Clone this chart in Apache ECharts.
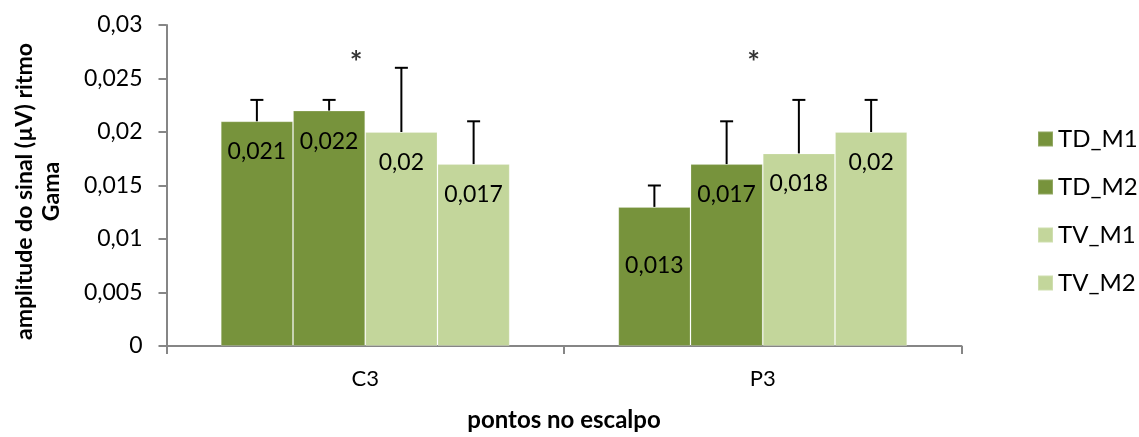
<!DOCTYPE html>
<html>
<head>
<meta charset="utf-8">
<script src="https://cdn.jsdelivr.net/npm/echarts@6/dist/echarts.min.js"></script>
<style>
html,body{margin:0;padding:0;background:#fff;}
#c{width:1139px;height:437px;}
</style>
</head>
<body>
<div id="c"></div>
<script>
var categories = ['C3', 'P3'];
var seriesNames = ['TD_M1', 'TD_M2', 'TV_M1', 'TV_M2'];
var TD_M1 = [0.021, 0.013];
var TD_M2 = [0.022, 0.017];
var TV_M1 = [0.020, 0.018];
var TV_M2 = [0.017, 0.020];
var TD_M1_err = [0.002, 0.002];
var TD_M2_err = [0.001, 0.004];
var TV_M1_err = [0.006, 0.005];
var TV_M2_err = [0.004, 0.003];
var asteriskLevel = [0.0264, 0.0264];
var yTickLabels = ['0', '0,005', '0,01', '0,015', '0,02', '0,025', '0,03'];

var values = [TD_M1, TD_M2, TV_M1, TV_M2];
var errors = [TD_M1_err, TD_M2_err, TV_M1_err, TV_M2_err];
var colors = ['#77933C', '#77933C', '#C3D69B', '#C3D69B'];
var FONT = 'Lato';
var GAP = 0.273;

var series = [];
values.forEach(function (vals, si) {
  series.push({
    name: seriesNames[si],
    type: 'bar',
    barGap: 0,
    barCategoryGap: (GAP * 100) + '%',
    itemStyle: { color: colors[si], borderColor: 'rgba(255,255,255,0.2)', borderWidth: 1 },
    label: {
      show: true,
      position: 'insideTop',
      distance: 19,
      color: '#000',
      fontFamily: FONT,
      fontSize: 23,
      formatter: function (p) { return String(p.value).replace('.', ','); }
    },
    data: vals.map(function (v, ci) {
      var d = { value: v };
      if (si === 0 && ci === 1) d.label = { distance: 47 };
      return d;
    }),
    z: 2
  });
});
values.forEach(function (vals, si) {
  series.push({
    type: 'custom',
    name: seriesNames[si] + '_err',
    data: vals.map(function (v, ci) { return [ci, v, errors[si][ci]]; }),
    encode: { x: 0, y: 1 },
    z: 3,
    silent: true,
    renderItem: function (params, api) {
      var ci = api.value(0), v = api.value(1), e = api.value(2);
      var band = api.size([1, 0])[0];
      var bw = band * (1 - GAP) / 4;
      var base = api.coord([ci, v]);
      var top = api.coord([ci, v + e]);
      var x = base[0] + (si - 1.5) * bw;
      var cap = 6.5;
      var st = { stroke: '#000', lineWidth: 2 };
      return {
        type: 'group',
        children: [
          { type: 'line', shape: { x1: x, y1: base[1], x2: x, y2: top[1] }, style: st },
          { type: 'line', shape: { x1: x - cap, y1: top[1], x2: x + cap, y2: top[1] }, style: st }
        ]
      };
    }
  });
});
series.push({
  type: 'scatter',
  name: 'sig',
  data: asteriskLevel,
  symbolSize: 0,
  silent: true,
  label: {
    show: true,
    position: 'inside',
    offset: [-9, 0],
    formatter: '*',
    color: '#000',
    fontFamily: FONT,
    fontWeight: 'bold',
    fontSize: 30
  },
  z: 4
});

var chart = echarts.init(document.getElementById('c'));
chart.setOption({
  animation: false,
  backgroundColor: '#fff',
  textStyle: { fontFamily: FONT },
  grid: { left: 166.5, right: 177.5, top: 25, bottom: 86 },
  legend: {
    data: seriesNames,
    orient: 'vertical',
    left: 1032,
    top: 122,
    icon: 'rect',
    itemWidth: 15,
    itemHeight: 15,
    itemGap: 24,
    textStyle: { fontFamily: FONT, fontSize: 24, color: '#000', lineHeight: 24 }
  },
  xAxis: {
    type: 'category',
    data: categories,
    name: 'pontos no escalpo',
    nameLocation: 'middle',
    nameGap: 62,
    nameTextStyle: { fontFamily: FONT, fontSize: 24, fontWeight: 'bold', color: '#000' },
    axisLine: { lineStyle: { color: '#868686', width: 2 } },
    axisTick: { show: true, length: 8, lineStyle: { color: '#868686', width: 2 } },
    axisLabel: { margin: 22, fontFamily: FONT, fontSize: 22, color: '#000' }
  },
  yAxis: {
    type: 'value',
    min: 0,
    max: 0.03,
    interval: 0.005,
    name: 'amplitude do sinal (µV) ritmo\nGama',
    nameLocation: 'middle',
    nameRotate: 90,
    nameGap: 101,
    nameTextStyle: { fontFamily: FONT, fontSize: 23, fontWeight: 'bold', color: '#000', lineHeight: 27, align: 'center', padding: [0, 12, 0, 0] },
    splitLine: { show: false },
    axisLine: { show: true, lineStyle: { color: '#868686', width: 2 } },
    axisTick: { show: true, length: 8, lineStyle: { color: '#868686', width: 2 } },
    axisLabel: {
      margin: 24,
      fontFamily: FONT,
      fontSize: 23,
      color: '#000',
      formatter: function (v, i) { return yTickLabels[i]; }
    }
  },
  series: series
});
</script>
</body>
</html>
